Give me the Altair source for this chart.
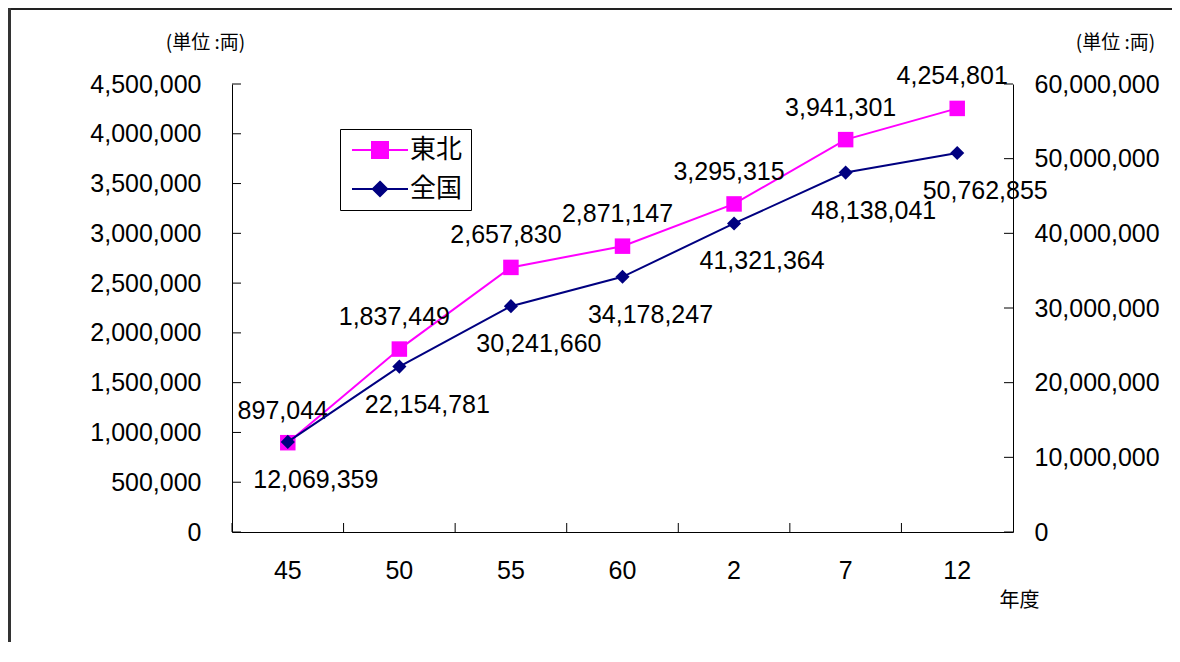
import altair as alt
import pandas as pd

years = ['45', '50', '55', '60', '2', '7', '12']
tohoku = [897044, 1837449, 2657830, 2871147, 3295315, 3941301, 4254801]
zenkoku = [12069359, 22154781, 30241660, 34178247, 41321364, 48138041, 50762855]
series_names = ['東北', '全国']
series_colors = ['#FF00FF', '#000080']
left_ticks = [0, 500000, 1000000, 1500000, 2000000, 2500000, 3000000, 3500000, 4000000, 4500000]
right_ticks = [0, 10000000, 20000000, 30000000, 40000000, 50000000, 60000000]
unit_title = '(単位 :両)'
x_title = '年度'

W, H = 781, 448
PAD = {"left": 224, "top": 76, "right": 159, "bottom": 110}

NUM_FONT = 'Liberation Sans'
JP_FONT = 'Noto Sans CJK JP'

df_t = pd.DataFrame({'year': years, 'value': tohoku})
df_z = pd.DataFrame({'year': years, 'value': zenkoku})

x_enc = alt.X('year:N', sort=years,
              scale=alt.Scale(type='band', paddingInner=0, paddingOuter=0),
              axis=alt.Axis(title=x_title, labelAngle=0, labelFontSize=25, labelFont=NUM_FONT,
                            labelPadding=26, ticks=False, domainColor='black', labelColor='black',
                            titleX=787, titleY=68, titleAlign='center', titleBaseline='middle',
                            titleFontSize=20, titleFontWeight='normal', titleFont=JP_FONT,
                            titleColor='black', grid=False))

y_t = alt.Y('value:Q', scale=alt.Scale(domain=[0, 4500000], nice=False),
            axis=alt.Axis(orient='left', values=left_ticks, format=',.0f', labelFontSize=25,
                          labelFont=NUM_FONT, labelPadding=31, ticks=False, grid=False,
                          domainColor='black', labelColor='black',
                          title=unit_title, titleAngle=0, titleX=-27, titleY=-42,
                          titleAlign='center', titleBaseline='middle', titleFontSize=19,
                          titleFontWeight='normal', titleFont=JP_FONT, titleColor='black'))

y_z = alt.Y('value:Q', scale=alt.Scale(domain=[0, 60000000], nice=False),
            axis=alt.Axis(orient='right', values=right_ticks, format=',.0f', labelFontSize=25,
                          labelFont=NUM_FONT, labelPadding=21, ticks=False, grid=False,
                          domainColor='black', labelColor='black',
                          title=unit_title, titleAngle=0, titleX=102, titleY=-42,
                          titleAlign='center', titleBaseline='middle', titleFontSize=19,
                          titleFontWeight='normal', titleFont=JP_FONT, titleColor='black'))

# Tohoku group (left axis)
base_t = alt.Chart(df_t).encode(x=x_enc, y=y_t)
line_t = base_t.mark_line(color=series_colors[0], strokeWidth=2)
pts_t = base_t.mark_point(shape='square', filled=True, size=240, color=series_colors[0], opacity=1)
txt_t = base_t.mark_text(dx=-5, dy=-32, fontSize=25, font=NUM_FONT, color='black').encode(
    text=alt.Text('value:Q', format=',.0f'))
ticks_t = alt.Chart(pd.DataFrame({'value': left_ticks})).mark_rule(color='black').encode(
    y=y_t, x=alt.value(0), x2=alt.value(9))
group_t = alt.layer(ticks_t, line_t, pts_t, txt_t)

# Zenkoku group (right axis)
base_z = alt.Chart(df_z).encode(x=x_enc, y=y_z)
line_z = base_z.mark_line(color=series_colors[1], strokeWidth=2)
pts_z = base_z.mark_point(shape='diamond', filled=True, size=200, color=series_colors[1], opacity=1)
txt_z = base_z.mark_text(dx=28, dy=38, fontSize=25, font=NUM_FONT, color='black').encode(
    text=alt.Text('value:Q', format=',.0f'))
ticks_z = alt.Chart(pd.DataFrame({'value': right_ticks})).mark_rule(color='black').encode(
    y=y_z, x=alt.value(W - 9), x2=alt.value(W))
group_z = alt.layer(ticks_z, line_z, pts_z, txt_z)

# x ticks at band boundaries, pointing inward
xticks = alt.Chart(pd.DataFrame({'year': years})).mark_rule(color='black').encode(
    x=alt.X('year:N', sort=years, bandPosition=0), y=alt.value(H - 9), y2=alt.value(H))

# Legend (symbols: line + marker); unit of path = 8px
sym_paths = ['M-3.5,0H3.5M-1,-1H1V1H-1Z',
             'M-3.5,0H3.5M0,-0.9L0.9,0L0,0.9L-0.9,0Z']
leg = alt.Legend(title=None, orient='none', legendX=108, legendY=45, symbolSize=256,
                 symbolStrokeWidth=2, symbolOpacity=1, symbolOffset=19, labelFontSize=26,
                 labelFont=JP_FONT, labelColor='black', strokeColor='black', padding=8,
                 labelOffset=17, rowPadding=13, fillColor='white')
legend_layer = alt.Chart(pd.DataFrame({'series': series_names})).mark_point(
    filled=True, opacity=0).encode(
    fill=alt.Fill('series:N', sort=series_names,
                  scale=alt.Scale(domain=series_names, range=series_colors), legend=leg),
    stroke=alt.Stroke('series:N', sort=series_names,
                      scale=alt.Scale(domain=series_names, range=series_colors), legend=leg),
    shape=alt.Shape('series:N', sort=series_names,
                    scale=alt.Scale(domain=series_names, range=sym_paths), legend=leg),
    x=alt.value(-500), y=alt.value(-500))

# Outer frame
frame_top = alt.Chart(pd.DataFrame({'a': [0]})).mark_rule(color='#222222', strokeWidth=2).encode(
    x=alt.value(-PAD['left']), x2=alt.value(W + PAD['right']), y=alt.value(-PAD['top'] + 1))
frame_left = alt.Chart(pd.DataFrame({'a': [0]})).mark_rule(color='#333333', strokeWidth=3).encode(
    x=alt.value(-PAD['left'] + 1.5), y=alt.value(-PAD['top']), y2=alt.value(H + PAD['bottom']))

chart = alt.layer(group_t, group_z, xticks, legend_layer, frame_top, frame_left).resolve_scale(
    y='independent').properties(
    width=W, height=H, padding=PAD, autosize=alt.AutoSizeParams(type='none'),
    background='white').configure_view(stroke=None)

chart.save("out.html", embed_options={"renderer": "svg", "actions": False})
